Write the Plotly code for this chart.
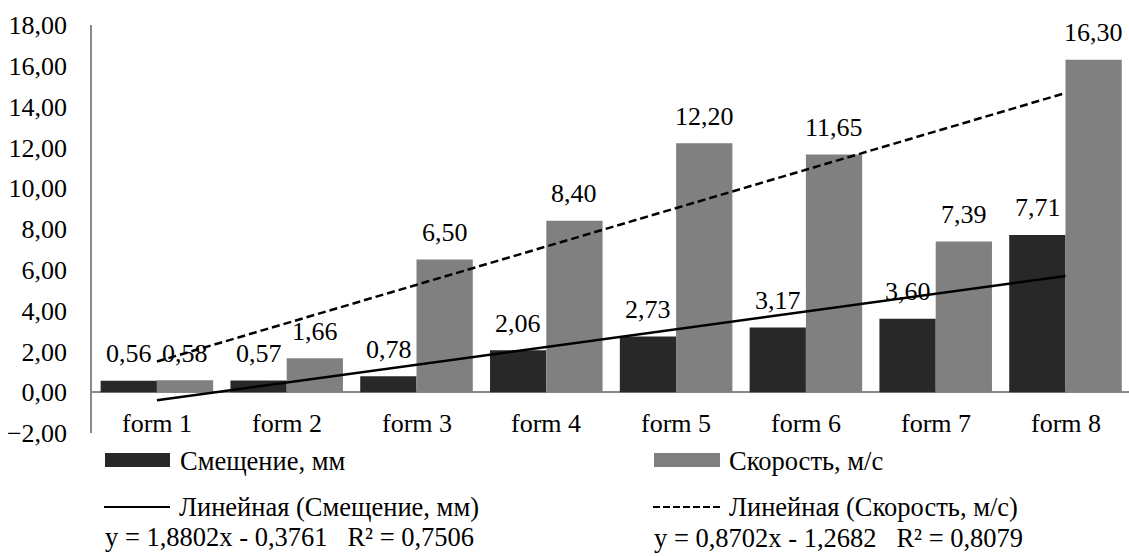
import plotly.graph_objects as go

categories = ["form 1", "form 2", "form 3", "form 4", "form 5", "form 6", "form 7", "form 8"]
smesh = [0.56, 0.57, 0.78, 2.06, 2.73, 3.17, 3.60, 7.71]
skor = [0.58, 1.66, 6.50, 8.40, 12.20, 11.65, 7.39, 16.30]
series_names = ["Смещение, мм", "Скорость, м/с"]
trend_names = ["Линейная (Смещение, мм)", "Линейная (Скорость, м/с)"]
# trend coefficients (slope, intercept) as drawn
trend_solid = [0.8702, -1.2682]
trend_dashed = [1.8802, -0.3761]
equations = ["y = 1,8802x - 0,3761   R² = 0,7506", "y = 0,8702x - 1,2682   R² = 0,8079"]
y_ticks = [-2, 0, 2, 4, 6, 8, 10, 12, 14, 16, 18]

DARK = "#282828"
GRAY = "#808080"
FONT = "Liberation Serif"
FS = 26
LFS = 26.5
EFS = 26.5

W, H = 1129, 556
L, T = 92, 25
PB = 433  # plot bottom pixel
PW = W - L
PH = PB - T

def px(x):
    return (x - L) / PW

def py(y):
    return (PB - y) / PH

fig = go.Figure()
fig.add_trace(go.Bar(x=categories, y=smesh, name=series_names[0], marker_color=DARK,
                     marker_line_width=0, showlegend=False))
fig.add_trace(go.Bar(x=categories, y=skor, name=series_names[1], marker_color=GRAY,
                     marker_line_width=0, showlegend=False))

idx = list(range(1, len(categories) + 1))
fig.add_trace(go.Scatter(x=categories, y=[trend_solid[0] * i + trend_solid[1] for i in idx],
                         mode="lines", line=dict(color="black", width=2.5),
                         name=trend_names[0], showlegend=False))
fig.add_trace(go.Scatter(x=categories, y=[trend_dashed[0] * i + trend_dashed[1] for i in idx],
                         mode="lines", line=dict(color="black", width=2.5, dash="8px,4px"),
                         name=trend_names[1], showlegend=False))

annotations = []
for c, v in zip(categories, smesh):
    annotations.append(dict(x=c, y=v, xref="x", yref="y", text=f"{v:.2f}".replace(".", ","),
                            showarrow=False, xshift=-28, yshift=27, yanchor="middle",
                            font=dict(family=FONT, size=FS, color="black")))
for c, v in zip(categories, skor):
    annotations.append(dict(x=c, y=v, xref="x", yref="y", text=f"{v:.2f}".replace(".", ","),
                            showarrow=False, xshift=28, yshift=27, yanchor="middle",
                            font=dict(family=FONT, size=FS, color="black")))
# category labels sitting just above the bottom of the plot area
for c in categories:
    annotations.append(dict(x=c, y=y_ticks[0], xref="x", yref="y", text=c,
                            showarrow=False, yshift=10, yanchor="middle",
                            font=dict(family=FONT, size=FS, color="black")))

# manual legend
shapes = []
shapes.append(dict(type="rect", xref="paper", yref="paper", x0=px(105), x1=px(170),
                   y0=py(467), y1=py(453), fillcolor=DARK, line_width=0))
shapes.append(dict(type="rect", xref="paper", yref="paper", x0=px(654), x1=px(720),
                   y0=py(467), y1=py(453), fillcolor=GRAY, line_width=0))
shapes.append(dict(type="line", xref="paper", yref="paper", x0=px(104), x1=px(170),
                   y0=py(507), y1=py(507), line=dict(color="black", width=2)))
shapes.append(dict(type="line", xref="paper", yref="paper", x0=px(653), x1=px(723),
                   y0=py(507), y1=py(507), line=dict(color="black", width=2, dash="7px,3px")))

legend_texts = [
    (series_names[0], 178, 461, LFS),
    (series_names[1], 727, 461, LFS),
    (trend_names[0], 177, 507, LFS),
    (trend_names[1], 727, 507, LFS),
    (equations[0], 103, 537, EFS),
    (equations[1], 652, 538, EFS),
]
for t, x, y, s in legend_texts:
    annotations.append(dict(x=px(x), y=py(y), xref="paper", yref="paper", text=t,
                            showarrow=False, xanchor="left", yanchor="middle",
                            font=dict(family=FONT, size=s, color="black")))

fig.update_layout(
    width=W, height=H,
    margin=dict(l=L, r=0, t=T, b=H - PB, autoexpand=False),
    plot_bgcolor="white", paper_bgcolor="white",
    barmode="group", bargap=0.133, bargroupgap=0,
    separators=", ",
    font=dict(family=FONT, size=FS, color="black"),
    annotations=annotations, shapes=shapes,
    showlegend=False,
)
fig.update_xaxes(range=[-0.5, -0.5 + PW / 129.8], showgrid=False, showline=False,
                 ticks="", showticklabels=False)
fig.update_yaxes(range=[-2, 18], tickvals=y_ticks, tickformat=".2f", showgrid=False,
                 showline=True, linecolor="#8a8a8a", linewidth=1.5,
                 zeroline=True, zerolinecolor="#8a8a8a", zerolinewidth=1.5,
                 ticks="", ticklabelstandoff=18,
                 tickfont=dict(family=FONT, size=FS, color="black"))

fig.write_html("out.html", config={"displayModeBar": False},
               post_script="document.body.style.margin='0';")
